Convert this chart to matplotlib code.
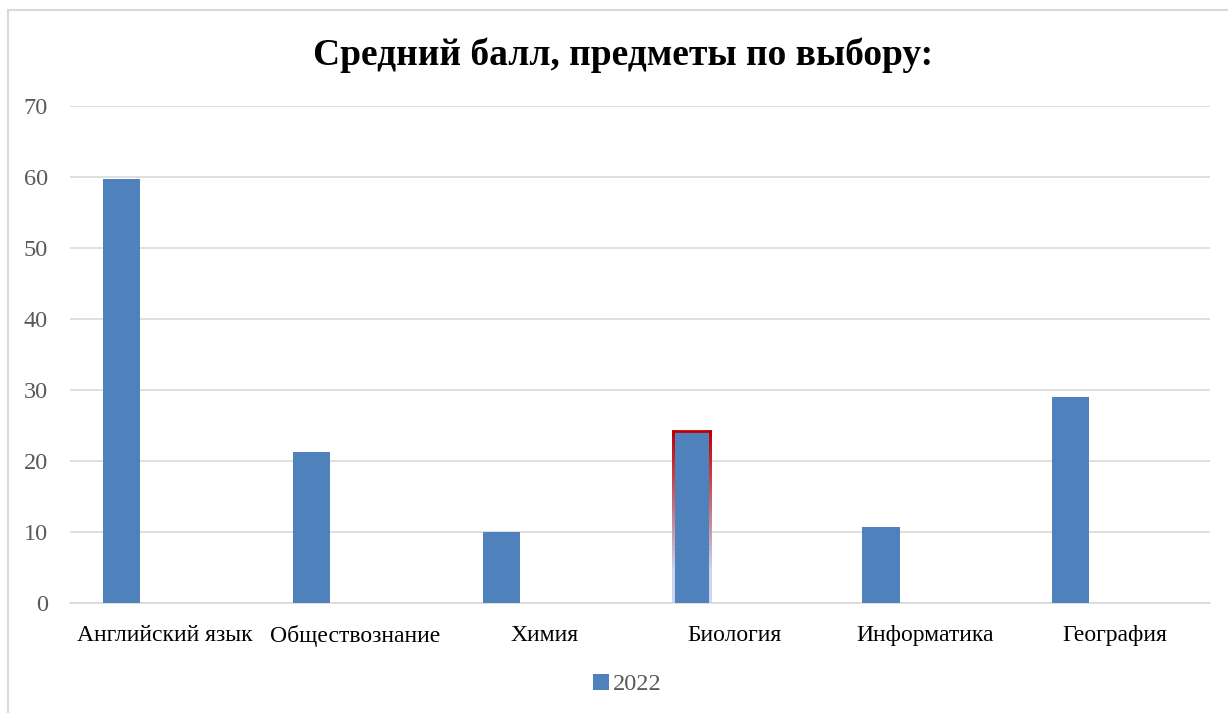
import numpy as np
import matplotlib
matplotlib.use('Agg')
from matplotlib import pyplot as plt
from matplotlib.patches import Rectangle, Patch
from matplotlib.collections import LineCollection
from matplotlib.colors import to_rgb

subjects = ['Английский язык', 'Обществознание', 'Химия', 'Биология', 'Информатика', 'География']
scores_2022 = [59.8, 21.3, 10.0, 24.2, 10.8, 29.0]
series_name = '2022'
title = 'Средний балл, предметы по выбору:'

plt.rcParams['font.family'] = ['Liberation Serif', 'DejaVu Serif']

fig = plt.figure(figsize=(12.28, 7.13), dpi=100)
ax = fig.add_axes([0.057, 0.154, 0.928, 0.697])

bar_color = '#4f81bd'
x = np.arange(len(subjects))
offset = -0.23
width = 0.195
bars = ax.bar(x + offset, scores_2022, width=width, color=bar_color, zorder=3)

# red outline fading downward on the "Биология" bar
b = bars[3]
bx, bw, bh = b.get_x(), b.get_width(), b.get_height()
ax.plot([bx, bx + bw], [bh, bh], color='#c00000', lw=2, zorder=4, solid_capstyle='projecting')
n = 30
red = np.array(to_rgb('#c00000'))
pale = np.array(to_rgb('#c6d6ec'))
segs, cols = [], []
for i in range(n):
    y0 = bh - bh * i / n
    y1 = bh - bh * (i + 1) / n
    t = min(1.0, i / (n * 0.8))
    c = red * (1 - t) + pale * t
    for xe in (bx, bx + bw):
        segs.append([(xe, y0), (xe, y1)])
        cols.append(c)
ax.add_collection(LineCollection(segs, colors=cols, linewidths=1.8, zorder=4,
                                 capstyle='projecting', antialiased=False))

ax.set_xlim(-0.5, len(subjects) - 0.5)
ax.set_ylim(0, 70)
ax.set_yticks(range(0, 71, 10))
ax.set_xticks(x)
ax.set_xticklabels(subjects)
ax.tick_params(axis='both', length=0, labelsize=17, colors='#000000')
ax.tick_params(axis='y', labelcolor='#595959', pad=16, labelsize=17.5)
ax.tick_params(axis='x', pad=16)
ax.yaxis.grid(True, color='#d9d9d9', lw=1.2, zorder=0)
for s in ['top', 'right', 'left']:
    ax.spines[s].set_visible(False)
ax.spines['bottom'].set_color('#d9d9d9')
ax.spines['bottom'].set_linewidth(1.2)

fig.text(0.507, 0.922, title, ha='center', va='center', fontsize=27, fontweight='bold')

handle = Patch(facecolor=bar_color, label=series_name)
fig.legend(handles=[handle], loc='center', bbox_to_anchor=(0.511, 0.04), frameon=False,
           fontsize=17.5, handlelength=0.65, handleheight=0.65, handletextpad=0.15,
           labelcolor='#595959')

fig.patches.append(Rectangle((8 / 1228, -0.05), 1.0, 1.05 - 10 / 713, transform=fig.transFigure,
                             fill=False, edgecolor='#d9d9d9', lw=1.5))

fig.savefig('out.png', dpi=100)
